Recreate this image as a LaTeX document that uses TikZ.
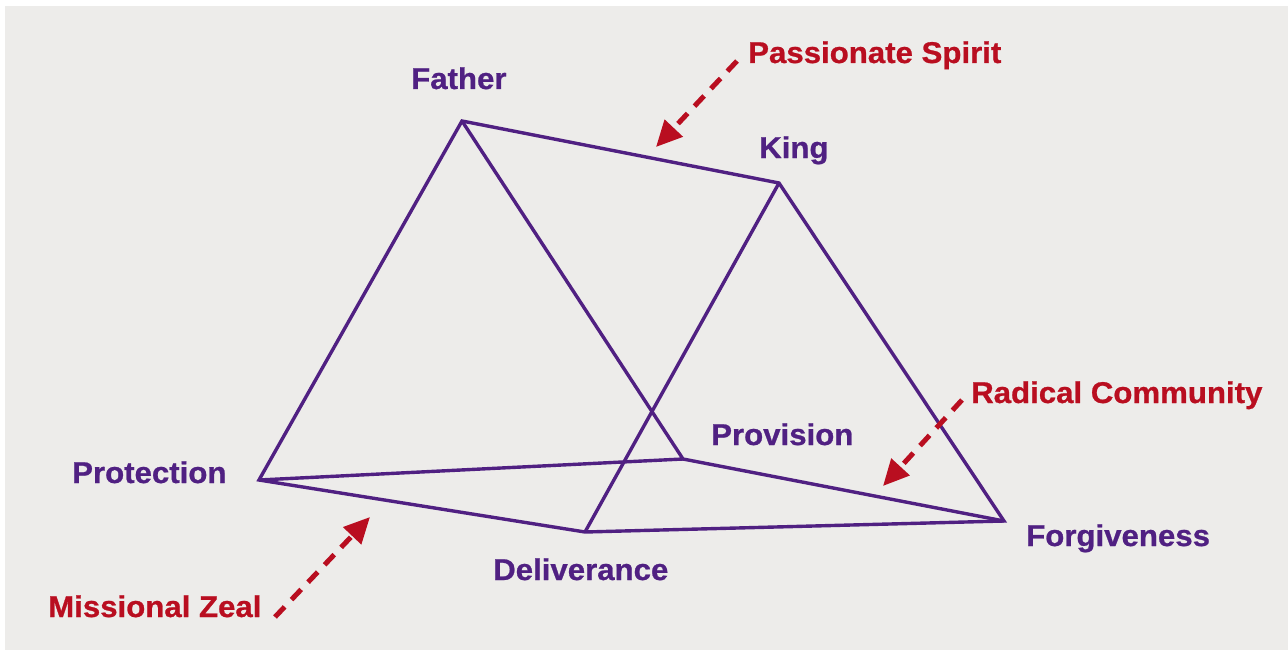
\documentclass[tikz,border=0pt]{standalone}
\usepackage{fontspec}
\setmainfont{Liberation Sans}[BoldFeatures={FakeStretch=1.04,FakeBold=0.8}]
\usetikzlibrary{arrows.meta}
\definecolor{bgray}{RGB}{237,236,234}
\definecolor{vpurple}{RGB}{80,32,130}
\definecolor{vred}{RGB}{185,14,32}
\tikzset{
  edge/.style={draw=vpurple, line width=3.4pt, line join=miter},
  vlabel/.style={text=vpurple, font=\fontsize{30}{36}\selectfont\bfseries, inner sep=0pt, anchor=base west},
  rlabel/.style={text=vred, font=\fontsize{30}{36}\selectfont\bfseries, inner sep=0pt, anchor=base west},
  redarrow/.style={draw=vred, line width=5pt, dash pattern=on 14pt off 10pt, -{Triangle[length=26pt,width=24pt]}}
}
\begin{document}
\begin{tikzpicture}[x=1pt,y=-1pt]
\useasboundingbox (0,0) rectangle (1288,650);
\fill[bgray] (5,6) rectangle (1288,650);
% vertices
\coordinate (F) at (462,121);
\coordinate (K) at (779,183);
\coordinate (Pr) at (259,480);
\coordinate (Pv) at (683,459);
\coordinate (D) at (585,532);
\coordinate (Fo) at (1004,521);
% edges
\draw[edge] (Pr) -- (F) -- (K) -- (Fo) -- (D) -- cycle;
\draw[edge] (F) -- (Pv) -- (Fo);
\draw[edge] (Pr) -- (Pv);
\draw[edge] (K) -- (D);
% labels
\node[vlabel] (lF) at (411,89) {Father};
\node[vlabel] (lK) at (759,158) {King};
\node[vlabel] (lPr) at (72,483) {Protection};
\node[vlabel] (lPv) at (711,445) {Provision};
\node[vlabel] (lD) at (493,580) {Deliverance};
\node[vlabel] (lFo) at (1026,546) {Forgiveness};
\node[rlabel] (lPS) at (748,63) {Passionate Spirit};
\node[rlabel] (lRC) at (971,403) {Radical Community};
\node[rlabel] (lMZ) at (48,617) {Missional Zeal};
% arrow ends
\coordinate (aPS1) at (737,61);
\coordinate (aPS2) at (656,147);
\coordinate (aRC1) at (962,400);
\coordinate (aRC2) at (883,486);
\coordinate (aMZ1) at (275,617);
\coordinate (aMZ2) at (370,517);
\draw[redarrow] (aPS1) -- (aPS2);
\draw[redarrow] (aRC1) -- (aRC2);
\draw[redarrow] (aMZ1) -- (aMZ2);
\end{tikzpicture}
\end{document}
